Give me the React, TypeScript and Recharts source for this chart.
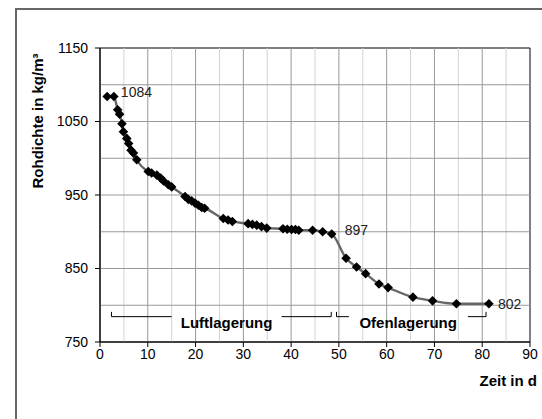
import React from "react";
import {
  LineChart,
  Line,
  XAxis,
  YAxis,
  ReferenceLine,
  ReferenceArea,
  ReferenceDot,
  LabelList,
} from "recharts";

// Zeit in Tagen und gemessene Rohdichte
const days = [
  1.5, 2.9, 3.7, 4.1, 4.6, 4.9, 5.6, 6.0, 6.5, 7.0, 7.7, 10.1, 10.8, 11.9, 12.7,
  13.3, 14.3, 15.0, 17.8, 18.5, 19.2, 19.9, 20.6, 21.3, 21.9, 25.8, 26.8, 27.7,
  31.0, 31.9, 32.8, 33.8, 34.9, 38.3, 39.2, 40.1, 40.9, 41.6, 44.5, 46.6, 48.5,
  51.5, 53.7, 55.6, 58.4, 60.3, 65.5, 69.6, 74.6, 81.4,
];
const density = [
  1084, 1084, 1066, 1060, 1047, 1036, 1027, 1020, 1011, 1007, 998, 982, 980,
  977, 973, 969, 964, 961, 948, 944, 942, 939, 936, 933, 932, 918, 916, 914,
  911, 910, 909, 907, 905, 904, 903.5, 903, 903, 902, 902, 900, 897, 864, 852,
  843, 829, 824, 811, 806, 802, 802,
];
const labelledIdx = [1, 40, 49];

const xTicks = [0, 10, 20, 30, 40, 50, 60, 70, 80, 90];
const yTicks = [750, 850, 950, 1050, 1150];
const minorX = [5, 15, 25, 35, 45, 55, 65, 75, 85];
const majorX = [10, 20, 30, 40, 50, 60, 70, 80];
const gridY = [800, 850, 900, 950, 1000, 1050, 1100];

const data = days.map((d, i) => ({ t: d, rho: density[i] }));

const FONT = "'Liberation Sans', Arial, sans-serif";

const Diamond = (props: any) => {
  const { cx, cy, index } = props;
  const s = 4.8;
  return (
    <path
      key={"d" + index}
      d={`M${cx},${cy - s}L${cx + s},${cy}L${cx},${cy + s}L${cx - s},${cy}Z`}
      fill="#000"
    />
  );
};

const PointLabel = (props: any) => {
  const { x, y, value, index } = props;
  if (!labelledIdx.includes(index)) return null;
  const dx = index === 1 ? 7 : index === 40 ? 13 : 9;
  const dy = index === 49 ? 0 : -4;
  return (
    <text
      x={x + dx}
      y={y + dy}
      dy="0.35em"
      fontSize={14}
      fontFamily={FONT}
      fill="#222"
    >
      {value}
    </text>
  );
};

const bracketY = 784.5;
const tickY = 791;

export default function App() {
  return (
    <div
      style={{
        position: "absolute",
        left: 0,
        top: 0,
        width: 542,
        height: 419,
        background: "#fff",
        overflow: "hidden",
      }}
    >
      <div
        style={{
          position: "absolute",
          left: 15,
          top: 8,
          width: 600,
          height: 500,
          borderLeft: "2px solid #666",
          borderTop: "2px solid #666",
        }}
      />
      <LineChart
        width={542}
        height={419}
        data={data}
        margin={{ top: 48, right: 12, bottom: 32, left: 40 }}
        style={{ position: "absolute", left: 0, top: 0 }}
      >
        <XAxis
          dataKey="t"
          type="number"
          domain={[0, 90]}
          ticks={xTicks}
          interval={0}
          height={45}
          tickSize={5}
          tickMargin={2}
          stroke="#000"
          tick={{ fill: "#000", fontSize: 14, fontFamily: FONT }}
          label={{
            content: () => (
              <text
                x={537}
                y={381}
                dy="0.35em"
                textAnchor="end"
                fontSize={15}
                fontWeight="bold"
                fontFamily={FONT}
                fill="#000"
              >
                Zeit in d
              </text>
            ),
          }}
        />
        <YAxis
          type="number"
          domain={[750, 1150]}
          ticks={yTicks}
          interval={0}
          width={60}
          tickSize={5}
          tickMargin={7}
          stroke="#000"
          tick={{ fill: "#000", fontSize: 14, fontFamily: FONT }}
          label={{
            content: () => (
              <text
                x={38}
                y={121}
                dy="0.35em"
                textAnchor="middle"
                transform="rotate(-90 38 121)"
                fontSize={15}
                fontWeight="bold"
                fontFamily={FONT}
                fill="#000"
              >
                Rohdichte in kg/m³
              </text>
            ),
          }}
        />
        {minorX.map((x) => (
          <ReferenceLine key={"mx" + x} x={x} stroke="#d4d4d4" strokeWidth={1} />
        ))}
        {majorX.map((x) => (
          <ReferenceLine key={"Mx" + x} x={x} stroke="#999" strokeWidth={1} />
        ))}
        {gridY.map((y) => (
          <ReferenceLine key={"gy" + y} y={y} stroke="#999" strokeWidth={1} />
        ))}
        <ReferenceArea
          x1={0}
          x2={90}
          y1={750}
          y2={1150}
          fill="none"
          stroke="#000"
          strokeWidth={1}
        />

        {/* Klammer Luftlagerung */}
        <ReferenceLine segment={[{ x: 2.4, y: tickY }, { x: 2.4, y: bracketY }]} stroke="#000" />
        <ReferenceLine segment={[{ x: 2.4, y: bracketY }, { x: 15, y: bracketY }]} stroke="#000" />
        <ReferenceLine segment={[{ x: 38, y: bracketY }, { x: 48.4, y: bracketY }]} stroke="#000" />
        <ReferenceLine segment={[{ x: 48.4, y: bracketY }, { x: 48.4, y: tickY }]} stroke="#000" />
        {/* Klammer Ofenlagerung */}
        <ReferenceLine segment={[{ x: 49.5, y: tickY }, { x: 49.5, y: bracketY }]} stroke="#000" />
        <ReferenceLine segment={[{ x: 49.5, y: bracketY }, { x: 52.1, y: bracketY }]} stroke="#000" />
        <ReferenceLine segment={[{ x: 77, y: bracketY }, { x: 80.8, y: bracketY }]} stroke="#000" />
        <ReferenceLine segment={[{ x: 80.8, y: bracketY }, { x: 80.8, y: tickY }]} stroke="#000" />
        <ReferenceDot
          x={26.5}
          y={776}
          r={0}
          fill="none"
          stroke="none"
          label={{
            value: "Luftlagerung",
            position: "center",
            fontSize: 15,
            fontWeight: "bold",
            fontFamily: FONT,
            fill: "#000",
          }}
        />
        <ReferenceDot
          x={64.5}
          y={776}
          r={0}
          fill="none"
          stroke="none"
          label={{
            value: "Ofenlagerung",
            position: "center",
            fontSize: 15,
            fontWeight: "bold",
            fontFamily: FONT,
            fill: "#000",
          }}
        />

        <Line
          type="monotone"
          dataKey="rho"
          stroke="#666"
          strokeWidth={2.4}
          dot={Diamond}
          activeDot={false}
          isAnimationActive={false}
        >
          <LabelList dataKey="rho" content={PointLabel} />
        </Line>
      </LineChart>
    </div>
  );
}
